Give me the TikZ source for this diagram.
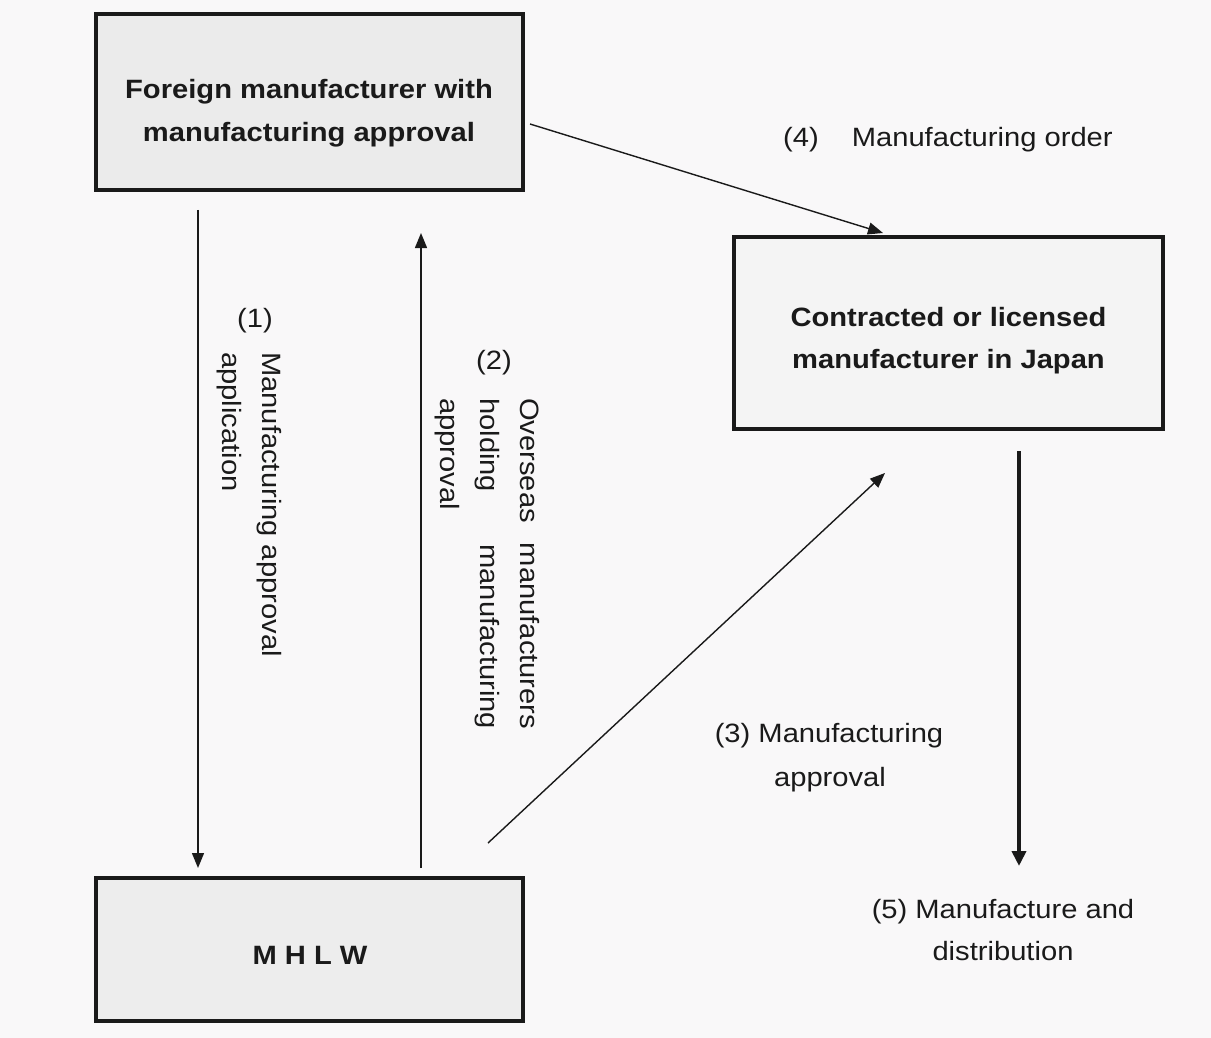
\documentclass[tikz,border=0pt]{standalone}
\usepackage{fontspec}
\setmainfont{Liberation Sans}[FakeStretch=1.1]
\usetikzlibrary{arrows.meta}
\definecolor{bgc}{HTML}{F9F8F9}
\definecolor{boxA}{HTML}{EBEBEB}
\definecolor{boxC}{HTML}{F4F4F4}
\definecolor{boxM}{HTML}{EDEDED}
\definecolor{ink}{HTML}{1A1A1A}
\tikzset{
  box/.style={draw=ink, line width=3.2pt, inner sep=0pt},
  btxt/.style={font=\fontsize{26.5}{43}\selectfont\bfseries, text=ink, inner sep=0pt, anchor=base},
  ltxt/.style={font=\fontsize{26.5}{43}\selectfont, text=ink, inner sep=0pt, anchor=base},
  vtxt/.style={font=\fontsize{26.5}{43}\selectfont, text=ink, inner sep=0pt, rotate=-90, anchor=base west},
  arr/.style={draw=ink, line width=1.4pt, -{Triangle[length=15pt,width=12pt]}},
  thickarr/.style={draw=ink, line width=4pt, -{Triangle[length=15pt,width=14pt]}}
}
\begin{document}
\begin{tikzpicture}[x=1pt,y=-1pt]
\useasboundingbox (0,0) rectangle (1211,1038);
\fill[bgc] (0,0) rectangle (1211,1038);

% boxes
\node[box, fill=boxA, minimum width=427pt, minimum height=176pt] (A) at (309.5,102) {};
\node[box, fill=boxC, minimum width=429pt, minimum height=192pt] (C) at (948.5,333) {};
\node[box, fill=boxM, minimum width=427pt, minimum height=143pt] (M) at (309.5,949.5) {};

\node[btxt] (A1) at (309,99) {Foreign manufacturer with};
\node[btxt] (A2) at (309,142) {manufacturing approval};
\node[btxt] (C1) at (948.5,326) {Contracted or licensed};
\node[btxt] (C2) at (948.5,368) {manufacturer in Japan};
\node[btxt] (M1) at (310,964) {M H L W};

% connector end points
\coordinate (a1s) at (198,210);
\coordinate (a1e) at (198,868);
\coordinate (a2s) at (421,868);
\coordinate (a2e) at (421,233);
\coordinate (a4s) at (530,124);
\coordinate (a4e) at (883,233);
\coordinate (a3s) at (488,843);
\coordinate (a3e) at (885,473);
\coordinate (a5s) at (1019,451);
\coordinate (a5e) at (1019,866);

\draw[arr] (a1s) -- (a1e);
\draw[arr] (a2s) -- (a2e);
\draw[arr] (a4s) -- (a4e);
\draw[arr] (a3s) -- (a3e);
\draw[thickarr] (a5s) -- (a5e);

% labels
\node[ltxt, anchor=base west] (L4) at (783,147) {(4)\hspace*{33pt}Manufacturing order};

\node[ltxt] (L1n) at (255,327) {(1)};
\node[vtxt] (L1a) at (262,352) {Manufacturing approval};
\node[vtxt] (L1b) at (222,352) {application};

\node[ltxt] (L2n) at (494,369) {(2)};
\node[vtxt] (L2a) at (520,398) {\makebox[331pt][s]{Overseas\hfill manufacturers}};
\node[vtxt] (L2b) at (480,398) {\makebox[331pt][s]{holding\hfill manufacturing}};
\node[vtxt] (L2c) at (440,398) {approval};

\node[ltxt] (L3a) at (829,742) {(3) Manufacturing};
\node[ltxt] (L3b) at (830,786) {approval};

\node[ltxt] (L5a) at (1003,918) {(5) Manufacture and};
\node[ltxt] (L5b) at (1003,960) {distribution};
\end{tikzpicture}
\end{document}
